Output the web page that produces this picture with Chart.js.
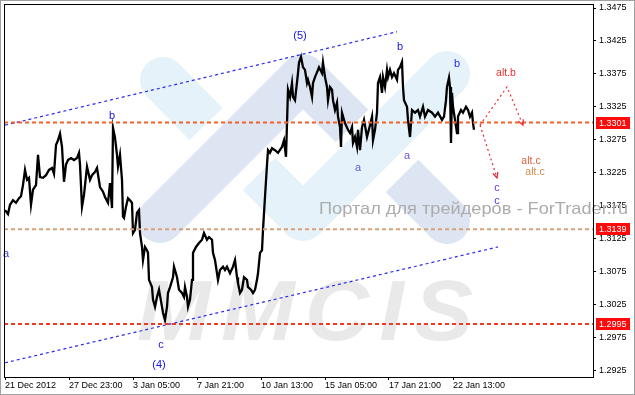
<!DOCTYPE html>
<html>
<head>
<meta charset="utf-8">
<script src="https://cdn.jsdelivr.net/npm/chart.js@4.4.1/dist/chart.umd.min.js"></script>
<style>
  html, body { margin: 0; padding: 0; background: #fff; overflow: hidden; }
  canvas { display: block; }
</style>
</head>
<body>
<canvas id="chart" width="635" height="395"></canvas>
<script>
// ---- data (H1 bars, index = bar number from left edge) ----
const priceSeries = [
  [1,1.3168],[4,1.3162],[6,1.3176],[9,1.3183],[12,1.3179],[15,1.3186],[17,1.3189],[19,1.3206],[21,1.3229],[23,1.3214],
  [25,1.3217],[27,1.3176],[29,1.3199],[32,1.3206],[34,1.3252],[36,1.3218],[39,1.3217],[42,1.3221],[45,1.3229],[48,1.3232],
  [50,1.3223],[52,1.3267],[54,1.3274],[56,1.3284],[58,1.3264],[60,1.3211],[62,1.3237],[64,1.3244],[67,1.3247],[70,1.3244],
  [73,1.3247],[75,1.3255],[76,1.3237],[78,1.3173],[80,1.3191],[83,1.3234],[86,1.3214],[88,1.3221],[91,1.3226],[93,1.3232],
  [96,1.3203],[99,1.3196],[101,1.3188],[104,1.3179],[106,1.3209],[108,1.3171],[109,1.3293],[111,1.3278],[113,1.3252],[114,1.3234],
  [116,1.3252],[118,1.3214],[119,1.3158],[120,1.3156],[122,1.3173],[124,1.3186],[126,1.3183],[128,1.3179],[129,1.3133],[131,1.3138],
  [133,1.3164],[135,1.3168],[136,1.3133],[138,1.3112],[139,1.3092],[141,1.3112],[143,1.3107],[144,1.3103],[145,1.3062],[148,1.3051],
  [149,1.3032],[151,1.3021],[153,1.3036],[155,1.3047],[158,1.3021],[159,1.3012],[161,1.3001],[163,1.3021],[164,1.3042],[166,1.3051],
  [169,1.3066],[170,1.3082],[173,1.3066],[175,1.3047],[178,1.3042],[180,1.3036],[181,1.3051],[183,1.3036],[184,1.3021],[186,1.3032],
  [188,1.3062],[189,1.3103],[192,1.3112],[195,1.3118],[198,1.3123],[200,1.3133],[203,1.3123],[205,1.3127],[208,1.3123],[209,1.3103],
  [211,1.3092],[213,1.3072],[214,1.3062],[216,1.3077],[219,1.3082],[221,1.3077],[223,1.3082],[226,1.3072],[229,1.3082],[231,1.3092],
  [233,1.3066],[234,1.3057],[236,1.3042],[238,1.3047],[240,1.3066],[243,1.3062],[244,1.3051],[247,1.3047],[249,1.3042],[251,1.3047],
  [253,1.3062],[254,1.3072],[256,1.3103],[258,1.3107],[259,1.3138],[261,1.3188],[263,1.3237],[264,1.3259],[266,1.3255],[268,1.3262],
  [271,1.3259],[274,1.3255],[278,1.3264],[280,1.3274],[282,1.3249],[283,1.3300],[284,1.3351],[286,1.3340],[288,1.3361],[289,1.3340],
  [291,1.3335],[294,1.3376],[295,1.3392],[297,1.3401],[299,1.3385],[301,1.3381],[303,1.3361],[304,1.3366],[306,1.3355],[308,1.3340],
  [309,1.3361],[311,1.3370],[314,1.3381],[315,1.3385],[318,1.3376],[319,1.3392],[321,1.3370],[323,1.3355],[324,1.3335],[326,1.3355],
  [328,1.3351],[329,1.3335],[331,1.3320],[333,1.3331],[334,1.3310],[336,1.3294],[337,1.3264],[338,1.3316],[341,1.3300],[344,1.3290],
  [346,1.3285],[348,1.3294],[349,1.3270],[351,1.3279],[353,1.3264],[354,1.3290],[356,1.3259],[358,1.3294],[360,1.3305],[363,1.3279],
  [366,1.3297],[368,1.3310],[369,1.3274],[371,1.3290],[373,1.3316],[374,1.3361],[376,1.3370],[378,1.3346],[379,1.3370],[381,1.3355],
  [383,1.3381],[384,1.3370],[386,1.3381],[388,1.3370],[390,1.3376],[393,1.3366],[394,1.3381],[396,1.3385],[398,1.3393],[399,1.3355],
  [400,1.3335],[403,1.3325],[404,1.3305],[406,1.3279],[408,1.3320],[411,1.3316],[414,1.3320],[416,1.3310],[419,1.3325],[421,1.3310],
  [424,1.3320],[428,1.3316],[431,1.3310],[434,1.3316],[438,1.3305],[440,1.3310],[442,1.3335],[443,1.3355],[445,1.3369],[446,1.3355],
  [447,1.3270],[448,1.3346],[449,1.3325],[451,1.3305],[453,1.3285],[454,1.3310],[457,1.3320],[459,1.3316],[462,1.3325],[464,1.3320],
  [466,1.3310],[468,1.3316],[469,1.3300],[470,1.3290]
];

const xTickBars = [1, 65, 129, 193, 257, 321, 385, 449];
const xTickLabels = ["21 Dec 2012", "27 Dec 23:00", "3 Jan 05:00", "7 Jan 21:00",
                     "10 Jan 13:00", "15 Jan 05:00", "17 Jan 21:00", "22 Jan 13:00"];
const yTicks = [1.2925, 1.2975, 1.3025, 1.3075, 1.3125, 1.3175, 1.3225,
                1.3275, 1.3325, 1.3375, 1.3425, 1.3475];

const levelPrices = [1.3301, 1.3139, 1.2995];
const channelUpper = [[1, 1.3297], [393, 1.3439]];
const channelLower = [[1, 1.2936], [494, 1.3112]];
const altBPath = [[476, 1.3297], [503, 1.3355], [519, 1.3297]];
const cPath = [[476, 1.3297], [493, 1.3217]];

const waveTexts  = ["(5)", "b", "a", "c", "(4)", "b", "b", "a", "a", "alt.b", "alt.c", "alt.c", "c", "c"];
const waveBars   = [296, 108, 2, 157, 155, 396, 453, 354, 403, 502, 527, 531, 493, 493];
const wavePrices = [1.3433, 1.3311, 1.3101, 1.2963, 1.2933, 1.3416, 1.3390, 1.3232, 1.3250,
                    1.3376, 1.3243, 1.3226, 1.3202, 1.3182];

// ---- styling ----
const BAR_MAX = 589;
const Y_MIN = 1.29144, Y_MAX = 1.34811;
const FONT = "'Liberation Sans', Arial, sans-serif";
const levelColors = ["#f4602a", "#d9a07a", "#ee3a22"];
const waveColors = ["#1414f0", "#1414f0", "#3a3ae8", "#1414f0", "#1414f0", "#1414f0", "#2a2af0",
                    "#6060dc", "#6a58d8", "#f03030", "#e0603a", "#cf8a50", "#6a3ad0", "#3c3cf0"];

const xy = pts => pts.map(([x, y]) => ({ x, y }));

const datasets = [
  { data: xy(priceSeries), borderColor: "#000", borderWidth: 2.3, order: 2 },
  ...levelPrices.map((p, i) => ({
    data: [{ x: 0, y: p }, { x: BAR_MAX, y: p }],
    borderColor: levelColors[i], borderWidth: 2, borderDash: [4, 3], order: 1
  })),
  { data: xy(channelUpper), borderColor: "#2a2aee", borderWidth: 1.2, borderDash: [3, 3], order: 1 },
  { data: xy(channelLower), borderColor: "#2a2aee", borderWidth: 1.2, borderDash: [3, 3], order: 1 },
  { data: xy(altBPath), borderColor: "#f03030", borderWidth: 1.2, borderDash: [2, 3], order: 0, arrow: true },
  { data: xy(cPath), borderColor: "#e4283c", borderWidth: 1.2, borderDash: [2, 3], order: 0, arrow: true }
];

function thickBar(ctx, x1, y1, x2, y2, w, color, roundStart, roundEnd) {
  ctx.strokeStyle = color;
  ctx.fillStyle = color;
  ctx.lineWidth = w;
  ctx.lineCap = "butt";
  ctx.beginPath(); ctx.moveTo(x1, y1); ctx.lineTo(x2, y2); ctx.stroke();
  if (roundStart) { ctx.beginPath(); ctx.arc(x1, y1, w / 2, 0, Math.PI * 2); ctx.fill(); }
  if (roundEnd) { ctx.beginPath(); ctx.arc(x2, y2, w / 2, 0, Math.PI * 2); ctx.fill(); }
}

const decor = {
  id: "decor",
  beforeDraw(chart) {
    const ctx = chart.ctx;
    ctx.save();
    ctx.fillStyle = "#fff";
    ctx.fillRect(0, 0, chart.width, chart.height);
    ctx.restore();
  },
  beforeDatasetsDraw(chart) {
    const ctx = chart.ctx;
    ctx.save();
    // logo watermark
    const blue = "#e5f2fa", lav = "#dde4f2";
    thickBar(ctx, 163, 80, 206, 124, 46, blue, true, false);
    thickBar(ctx, 259, 174, 303, 218, 46, blue, false, true);
    thickBar(ctx, 303, 218, 447, 74, 46, blue, false, true);
    thickBar(ctx, 160, 220, 303, 77, 46, lav, true, true);
    thickBar(ctx, 303, 77, 352, 126, 46, lav, false, false);
    thickBar(ctx, 402, 176, 447, 221, 46, lav, false, true);
    // MMCIS
    ctx.font = "italic bold 86px " + FONT;
    ctx.letterSpacing = "10px";
    ctx.fillStyle = "#e9e9e9";
    ctx.textBaseline = "alphabetic";
    let w = ctx.measureText("MMCIS").width - 10;
    ctx.save();
    ctx.translate(137, 340);
    ctx.scale(336 / w, 1);
    ctx.fillText("MMCIS", 0, 0);
    ctx.restore();
    ctx.letterSpacing = "0px";
    // portal caption
    ctx.font = "17px " + FONT;
    ctx.fillStyle = "#acacac";
    const cap = "Портал для трейдеров - ForTrader.ru";
    w = ctx.measureText(cap).width;
    ctx.translate(319, 214);
    ctx.scale(309 / w, 1);
    ctx.fillText(cap, 0, 0);
    ctx.restore();
  },
  afterDatasetsDraw(chart) {
    const ctx = chart.ctx;
    const xs = chart.scales.x, ys = chart.scales.y;
    ctx.save();
    // arrow heads on projection paths
    chart.data.datasets.forEach((ds, i) => {
      if (!ds.arrow) return;
      const pts = chart.getDatasetMeta(i).data;
      const a = pts[pts.length - 2], b = pts[pts.length - 1];
      const ang = Math.atan2(b.y - a.y, b.x - a.x);
      ctx.strokeStyle = ds.borderColor;
      ctx.lineWidth = 1.3;
      ctx.beginPath();
      ctx.moveTo(b.x - 6 * Math.cos(ang - 0.45), b.y - 6 * Math.sin(ang - 0.45));
      ctx.lineTo(b.x, b.y);
      ctx.lineTo(b.x - 6 * Math.cos(ang + 0.45), b.y - 6 * Math.sin(ang + 0.45));
      ctx.stroke();
    });
    // wave labels
    ctx.textAlign = "center";
    ctx.textBaseline = "middle";
    waveTexts.forEach((t, i) => {
      ctx.font = (t.startsWith("alt") ? "10.5px " : "11px ") + FONT;
      ctx.fillStyle = waveColors[i];
      ctx.fillText(t, xs.getPixelForValue(waveBars[i]), ys.getPixelForValue(wavePrices[i]));
    });
    // chart frame
    const ca = chart.chartArea;
    ctx.strokeStyle = "#000";
    ctx.lineWidth = 1;
    ctx.strokeRect(ca.left + 0.5, ca.top + 0.5, ca.right - ca.left, ca.bottom - ca.top);
    ctx.restore();
  },
  afterDraw(chart) {
    const ctx = chart.ctx;
    const ys = chart.scales.y, ca = chart.chartArea;
    ctx.save();
    ctx.font = "9px " + FONT;
    ctx.textBaseline = "middle";
    ctx.textAlign = "left";
    levelPrices.forEach(p => {
      const y = Math.round(ys.getPixelForValue(p));
      ctx.fillStyle = "#ff0a0a";
      ctx.fillRect(ca.right + 3, y - 6, 34, 12);
      ctx.fillStyle = "#fff";
      ctx.fillText(p.toFixed(4), ca.right + 6, y + 0.5);
    });
    ctx.strokeStyle = "#a0a0a0";
    ctx.strokeRect(0.5, 0.5, chart.width - 1, chart.height - 1);
    ctx.restore();
  }
};

function noOverhang(s) {
  s.paddingTop = 0; s.paddingBottom = 0; s.paddingLeft = 0; s.paddingRight = 0;
}

new Chart(document.getElementById("chart").getContext("2d"), {
  type: "line",
  data: { datasets },
  options: {
    responsive: false,
    animation: false,
    events: [],
    elements: { point: { radius: 0 }, line: { tension: 0 } },
    layout: { padding: { left: 4, top: 4, right: 0, bottom: 0 } },
    plugins: { legend: { display: false }, tooltip: { enabled: false } },
    scales: {
      x: {
        type: "linear", min: 0, max: BAR_MAX,
        afterBuildTicks: s => { s.ticks = xTickBars.map(v => ({ value: v })); },
        afterFit: s => { s.height = 18; noOverhang(s); },
        grid: { drawOnChartArea: false, tickLength: 3, color: "#000" },
        border: { display: true, color: "#000" },
        ticks: {
          align: "start", maxRotation: 0, autoSkip: false, padding: 0,
          color: "#000", font: { family: FONT, size: 9 },
          callback: (v, i) => xTickLabels[i]
        }
      },
      y: {
        position: "right", min: Y_MIN, max: Y_MAX,
        afterBuildTicks: s => { s.ticks = yTicks.map(v => ({ value: v })); },
        afterFit: s => { s.width = 42; noOverhang(s); },
        grid: { drawOnChartArea: false, tickLength: 3, color: "#000" },
        border: { display: true, color: "#000" },
        ticks: {
          padding: 3, color: "#000", font: { family: FONT, size: 9 },
          callback: v => v.toFixed(4)
        }
      }
    }
  },
  plugins: [decor]
});
</script>
</body>
</html>
